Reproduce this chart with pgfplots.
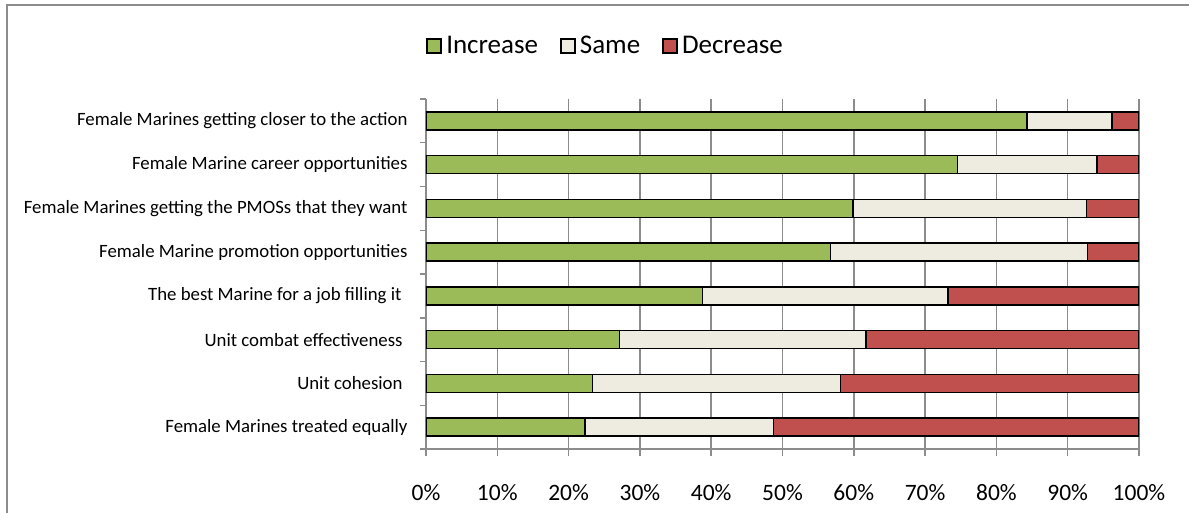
\documentclass[border=0pt]{standalone}
\usepackage{pgfplots}
\pgfplotsset{compat=1.18}
\usepackage{fontspec}
\setmainfont{Carlito}
\definecolor{incC}{HTML}{9BBB59}
\definecolor{sameC}{HTML}{EEECE1}
\definecolor{decC}{HTML}{C0504D}
\definecolor{gridC}{HTML}{8C8C8C}
\begin{document}
\begin{tikzpicture}[x=1pt,y=1pt]
\useasboundingbox (0,0) rectangle (1189,512);
\draw[gridC, line width=2pt] (7,-2) -- (7,507) -- (1192,507);
\begin{axis}[
  at={(426pt,63pt)}, anchor=south west,
  scale only axis, width=713pt, height=350pt,
  xbar stacked, bar width=18pt,
  xmin=0, xmax=100, ymin=0.5, ymax=8.5,
  axis x line*=bottom, axis y line*=left,
  axis line style={gridC, line width=1.5pt, -},
  xtick={0,10,...,100},
  xticklabels={0\%,10\%,20\%,30\%,40\%,50\%,60\%,70\%,80\%,90\%,100\%},
  ytick={1,...,8},
  yticklabels={Female Marines treated equally,
    Unit cohesion\hspace*{5pt},
    Unit combat effectiveness\hspace*{5pt},
    The best Marine for a job filling it\hspace*{6pt},
    Female Marine promotion opportunities,
    Female Marines getting the PMOSs that they want,
    Female Marine career opportunities,
    Female Marines getting closer to the action},
  minor ytick={0.5,1.5,...,8.5},
  major y tick style={draw=none},
  minor y tick style={gridC, line width=1.5pt},
  minor tick length=6pt,
  x tick style={gridC, line width=1.5pt},
  major tick length=7pt,
  tick align=outside,
  xmajorgrids, grid style={gridC, line width=1.5pt},
  xticklabel style={font=\fontsize{23.5}{26}\selectfont, yshift=-25pt},
  yticklabel style={font=\fontsize{18.8}{22}\selectfont, xshift=-8pt},
  legend columns=3,
  legend style={at={(0.252,1.152)}, anchor=center, draw=none,
    font=\fontsize{27}{30}\selectfont,
    /tikz/every odd column/.append style={column sep=2pt},
    /tikz/every even column/.append style={column sep=20pt}},
  legend image code/.code={\draw[#1, line width=1.8pt] (0pt,-7pt) rectangle (14pt,7pt);},
  every axis plot/.append style={draw=black, line width=1.3pt},
]
\addplot[fill=incC] coordinates {(22.3,1) (23.4,2) (27.1,3) (38.8,4) (56.7,5) (59.9,6) (74.5,7) (84.3,8)};
\addplot[fill=sameC] coordinates {(26.4,1) (34.7,2) (34.6,3) (34.4,4) (36.1,5) (32.7,6) (19.6,7) (11.9,8)};
\addplot[fill=decC] coordinates {(51.3,1) (41.9,2) (38.3,3) (26.8,4) (7.2,5) (7.4,6) (5.9,7) (3.8,8)};
\legend{Increase,Same,Decrease}
\end{axis}
\end{tikzpicture}
\end{document}
